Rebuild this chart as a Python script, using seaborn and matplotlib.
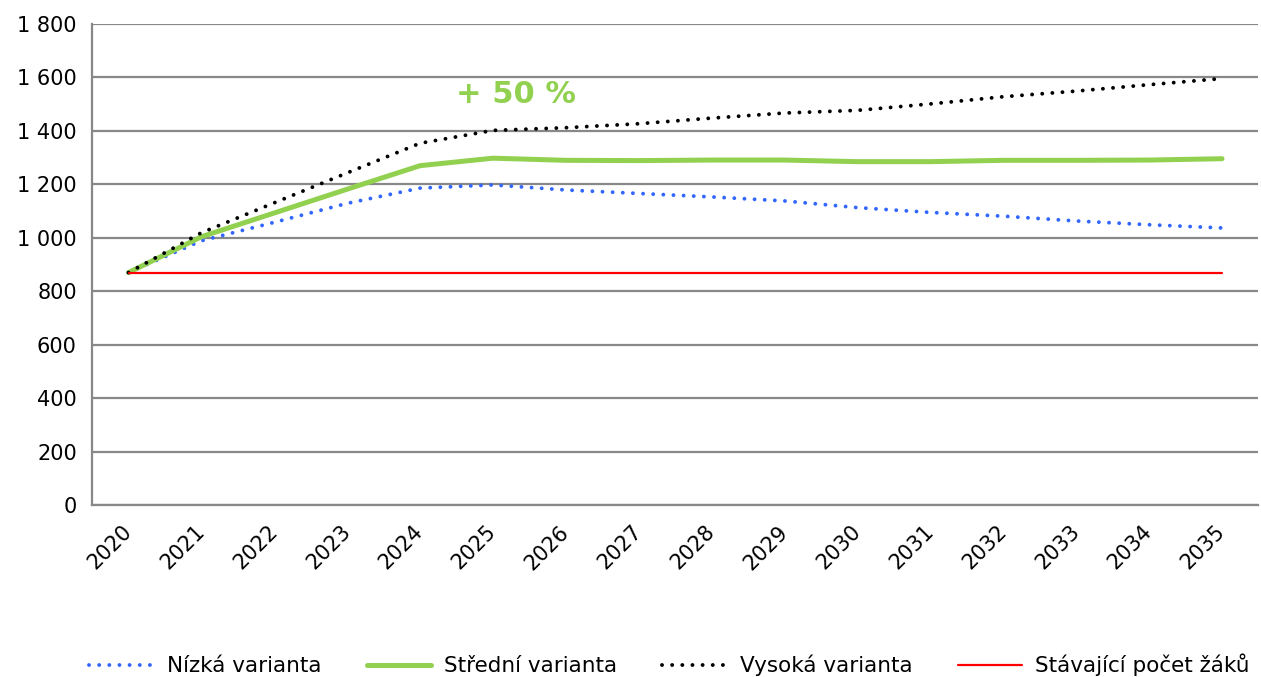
import pandas as pd
import matplotlib
matplotlib.use("Agg")
import matplotlib.pyplot as plt
from matplotlib.ticker import FuncFormatter, FixedLocator
from matplotlib.transforms import ScaledTranslation
import seaborn as sns

years = [str(y) for y in range(2020, 2036)]
nizka = [870, 989, 1058, 1129, 1186, 1198, 1179, 1166, 1153, 1138, 1113, 1095, 1081, 1063, 1049, 1037]
stredni = [870, 1004, 1093, 1182, 1270, 1298, 1290, 1289, 1291, 1291, 1285, 1285, 1290, 1290, 1291, 1296]
vysoka = [870, 1019, 1131, 1243, 1354, 1402, 1412, 1427, 1448, 1467, 1477, 1501, 1528, 1549, 1573, 1596]
stavajici = [870, 870, 870, 870, 870, 870, 870, 870, 870, 870, 870, 870, 870, 870, 870, 870]

sns.set_style("white")
plt.rcParams["font.family"] = ["DejaVu Sans"]
plt.rcParams["text.color"] = "black"

df = pd.DataFrame({"Rok": years, "Nízká varianta": nizka, "Střední varianta": stredni,
                   "Vysoká varianta": vysoka, "Stávající počet žáků": stavajici})

fig = plt.figure(figsize=(12.61, 6.77), dpi=100)
ax = fig.add_axes([0.073, 0.254, 0.925, 0.7105])

dot = (0, (0.01, 2.6))
sns.lineplot(data=df, x="Rok", y="Nízká varianta", ax=ax, color="#3366FF", lw=2.8,
             linestyle=dot, dash_capstyle="round", label="Nízká varianta", sort=False)
sns.lineplot(data=df, x="Rok", y="Střední varianta", ax=ax, color="#92D050", lw=3.6,
             label="Střední varianta", sort=False, solid_capstyle="round")
sns.lineplot(data=df, x="Rok", y="Vysoká varianta", ax=ax, color="black", lw=2.8,
             linestyle=dot, dash_capstyle="round", label="Vysoká varianta", sort=False)
sns.lineplot(data=df, x="Rok", y="Stávající počet žáků", ax=ax, color="#FF0000", lw=1.6,
             label="Stávající počet žáků", sort=False)

ax.set_xlim(-0.5, len(years) - 0.5)
ax.set_ylim(0, 1800)
ax.set_yticks(range(0, 1801, 200))
ax.yaxis.set_major_formatter(FuncFormatter(lambda v, p: f"{int(v):,}".replace(",", " ")))
ax.grid(axis="y", color="#888888", lw=1.6)
ax.set_axisbelow(True)
ax.set_xlabel("")
ax.set_ylabel("")

for s in ["top", "right"]:
    ax.spines[s].set_visible(False)
for s in ["left", "bottom"]:
    ax.spines[s].set_color("#888888")
    ax.spines[s].set_linewidth(1.6)

ax.xaxis.set_minor_locator(FixedLocator([i - 0.5 for i in range(len(years) + 1)]))
ax.tick_params(axis="x", which="major", length=0, pad=12, labelsize=15, labelcolor="black")
ax.tick_params(axis="x", which="minor", length=6, width=1.6, color="#888888", direction="out")
ax.tick_params(axis="y", length=7, width=1.6, color="#888888", direction="out",
               labelsize=15, pad=4, labelcolor="black")
shift = ScaledTranslation(-7 / 100, 0, fig.dpi_scale_trans)
for lbl in ax.get_xticklabels():
    lbl.set_rotation(45)
    lbl.set_ha("right")
    lbl.set_rotation_mode("anchor")
    lbl.set_transform(lbl.get_transform() + shift)

ax.text(5.32, 1537, "+ 50 %", color="#92D050", fontsize=22, fontweight="bold",
        ha="center", va="center")

ax.get_legend().remove()
h, l = ax.get_legend_handles_labels()
fig.legend(h, l, loc="center", bbox_to_anchor=(0.531, 0.018), ncol=4, frameon=False,
           fontsize=15.5, handlelength=3.0, columnspacing=2.1, handletextpad=0.6,
           labelcolor="black")

plt.savefig("out.png", dpi=100)
plt.close()
